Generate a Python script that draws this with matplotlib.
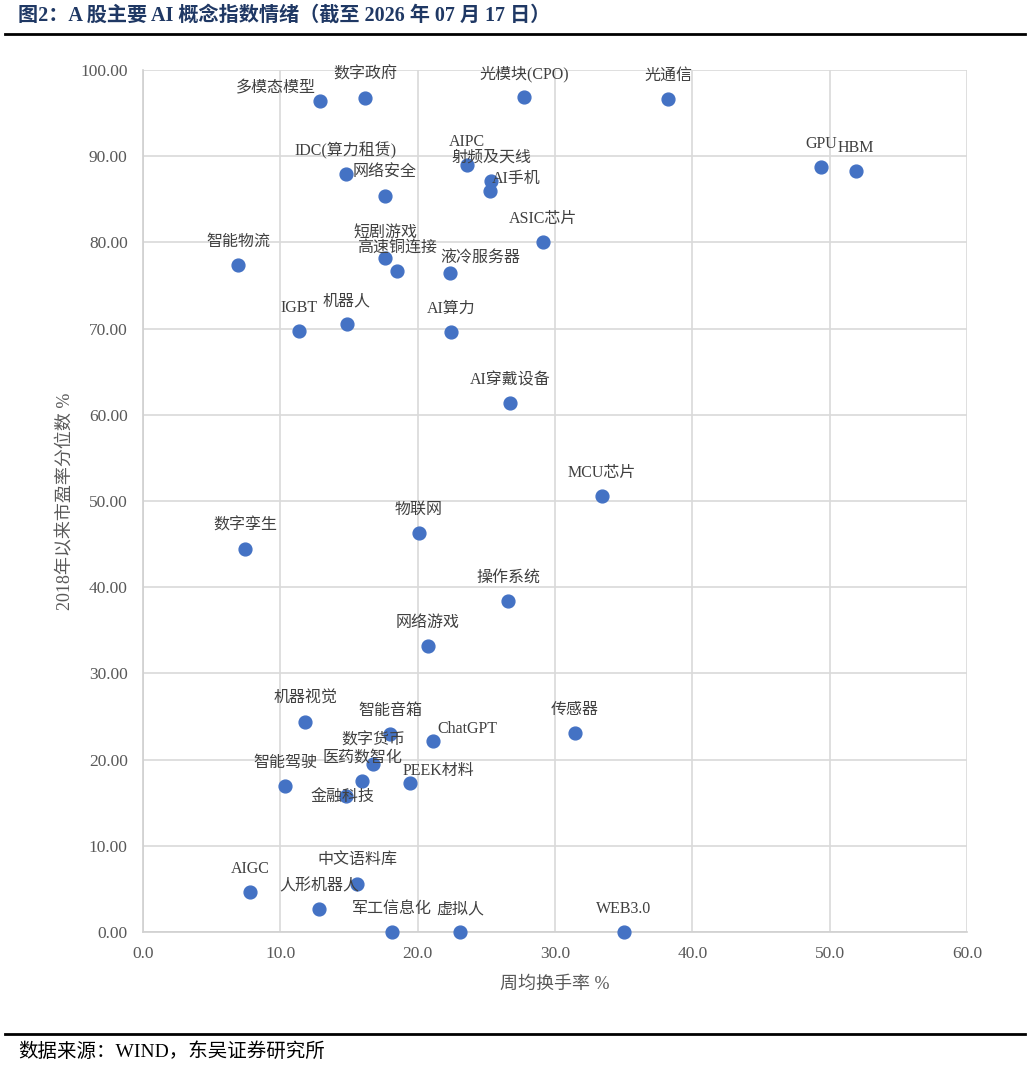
import matplotlib
matplotlib.use('Agg')
import matplotlib.pyplot as plt

FONT = ['Liberation Serif', 'Noto Sans CJK SC', 'DejaVu Sans']
plt.rcParams['font.family'] = FONT

# 指数名称 / 周均换手率 % / 2018年以来市盈率分位数 %
names = ['多模态模型', '数字政府', '光模块(CPO)', '光通信', 'GPU', 'HBM',
         'IDC(算力租赁)', '网络安全', 'AIPC', '射频及天线', 'AI手机', 'ASIC芯片',
         '智能物流', '短剧游戏', '高速铜连接', '液冷服务器', 'IGBT', '机器人',
         'AI算力', 'AI穿戴设备', 'MCU芯片', '数字孪生', '物联网', '操作系统',
         '网络游戏', '机器视觉', '智能音箱', 'ChatGPT', '传感器', '数字货币',
         '医药数智化', '智能驾驶', 'PEEK材料', '金融科技', 'AIGC', '中文语料库',
         '人形机器人', '军工信息化', '虚拟人', 'WEB3.0']
turnover = [12.89, 16.17, 27.74, 38.23, 49.37, 51.92,
            14.78, 17.62, 23.59, 25.34, 25.27, 29.13,
            6.92, 17.62, 18.50, 22.35, 11.36, 14.85,
            22.43, 26.72, 33.42, 7.43, 20.10, 26.58,
            20.75, 11.80, 17.99, 21.12, 31.46, 16.75,
            15.95, 10.34, 19.44, 14.78, 7.79, 15.58,
            12.82, 18.13, 23.08, 35.02]
pe_pct = [96.40, 96.75, 96.87, 96.64, 88.75, 88.28,
          87.94, 85.38, 88.98, 87.12, 85.96, 80.05,
          77.38, 78.19, 76.68, 76.45, 69.72, 70.53,
          69.61, 61.37, 50.58, 44.43, 46.29, 38.40,
          33.18, 24.36, 22.97, 22.16, 23.09, 19.49,
          17.52, 16.94, 17.29, 15.78, 4.64, 5.57,
          2.67, 0.00, 0.00, 0.00]

# label offsets in pixels (default: centred above the point)
label_shift = {'多模态模型': (-44, 13), '液冷服务器': (30, 14), 'AI手机': (26, 12),
               'ChatGPT': (34, 12), 'PEEK材料': (28, 12), '金融科技': (-3, -1),
               '短剧游戏': (0, 25), '高速铜连接': (0, 22)}

fig = plt.figure(figsize=(10.31, 10.67), dpi=100)
ax = fig.add_axes([143/1031, 1-932/1067, (967-143)/1031, (932-70)/1067])

ax.scatter(turnover, pe_pct, s=85, color='#4472C4', zorder=3, clip_on=False)
for n, x, y in zip(names, turnover, pe_pct):
    dx, dy = label_shift.get(n, (0, 23))
    ax.annotate(n, (x, y), xytext=(dx, dy), textcoords='offset pixels',
                ha='center', va='center', fontsize=11.5, color='#404040',
                family=FONT, zorder=4)

ax.set_xlim(0, 60)
ax.set_ylim(0, 100)
ax.set_xticks(range(0, 61, 10))
ax.set_yticks(range(0, 101, 10))
ax.set_xticklabels(['%.1f' % v for v in range(0, 61, 10)])
ax.set_yticklabels(['%.2f' % v for v in range(0, 101, 10)])
ax.tick_params(length=0, labelsize=12.5, labelcolor='#595959')
ax.tick_params(axis='y', pad=11)
ax.tick_params(axis='x', pad=10)
ax.grid(True, color='#d9d9d9', linewidth=1.2)
ax.set_axisbelow(True)
for side in ['top', 'right']:
    ax.spines[side].set_visible(False)
for side in ['left', 'bottom']:
    ax.spines[side].set_color('#d0d0d0')
    ax.spines[side].set_linewidth(1.2)

ax.set_xlabel('周均换手率 %', fontsize=13, color='#595959', labelpad=10)
ax.set_ylabel('2018年以来市盈率分位数 %', fontsize=13, color='#595959', labelpad=4)

# title, rules and source
fig.text(18/1031, 1-16/1067, '图2：A 股主要 AI 概念指数情绪（截至 2026 年 07 月 17 日）',
         fontsize=14.5, fontweight='bold', color='#1F3864', ha='left', va='center')
fig.add_artist(plt.Line2D([5/1031, 1025/1031], [1-34/1067, 1-34/1067], color='black', linewidth=2))
fig.add_artist(plt.Line2D([5/1031, 1025/1031], [1-1034/1067, 1-1034/1067], color='black', linewidth=2))
fig.text(18/1031, 1-1052/1067, '数据来源：WIND，东吴证券研究所',
         fontsize=14, color='black', ha='left', va='center')

fig.savefig('out.png', dpi=100)
